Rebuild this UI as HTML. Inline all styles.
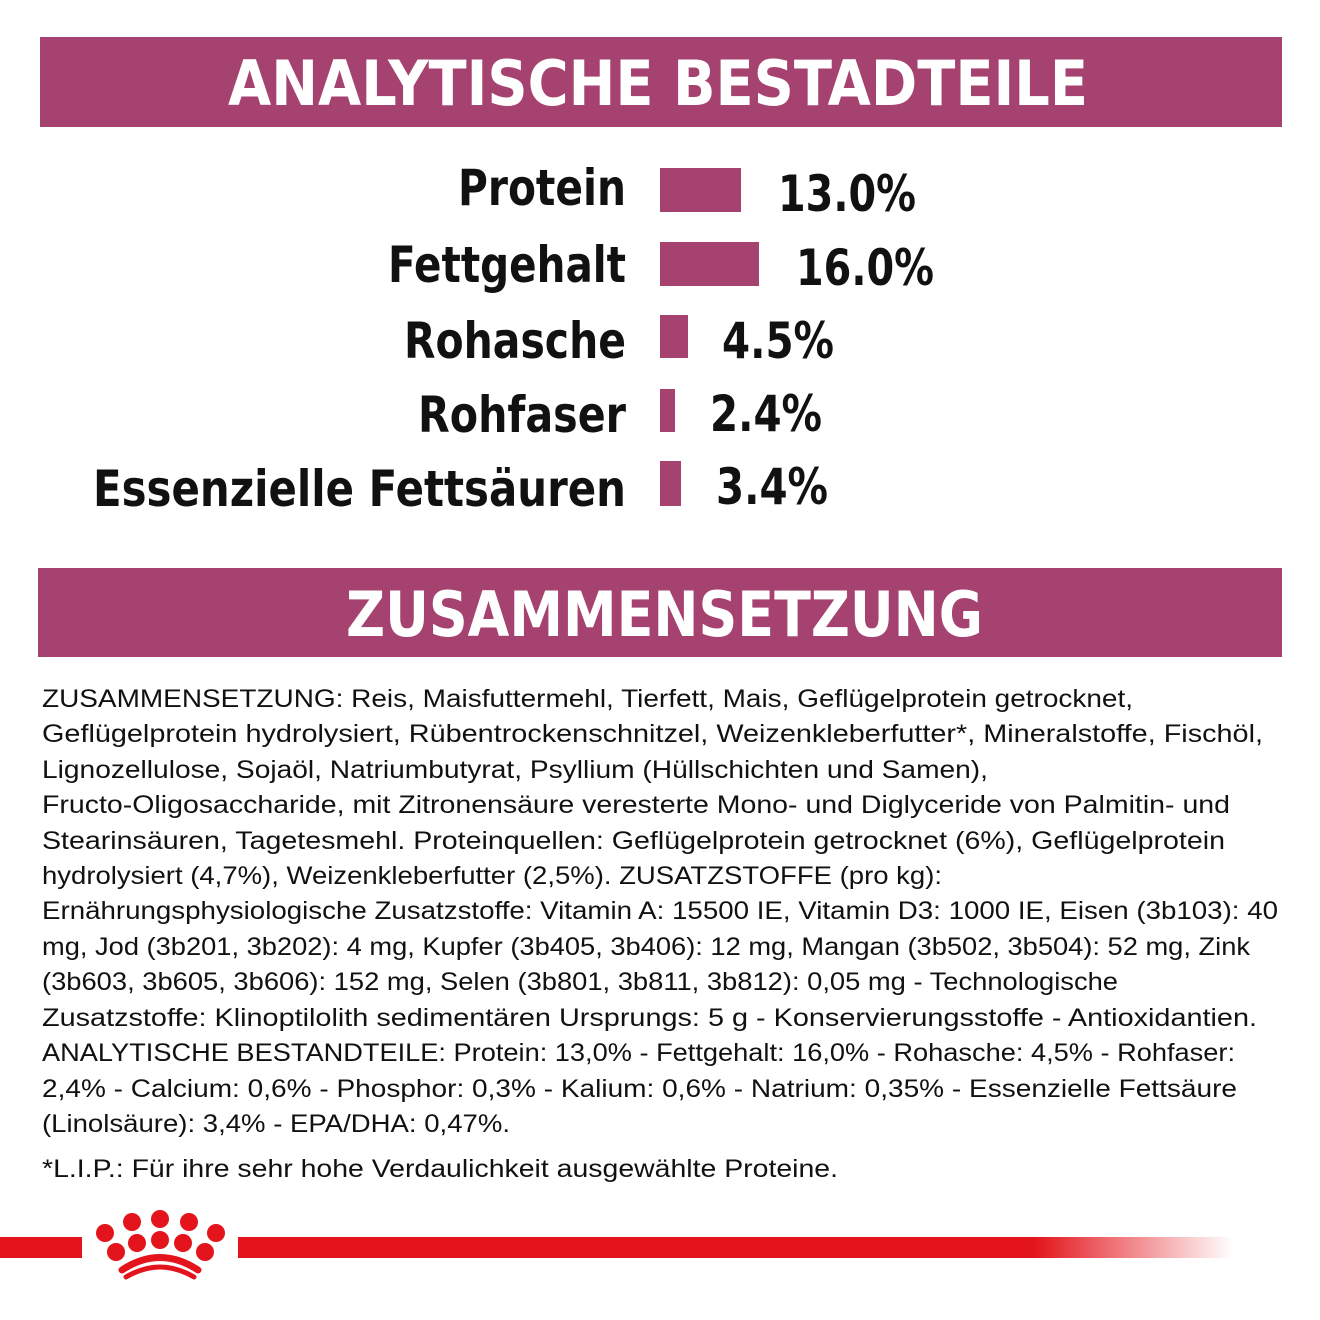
<!DOCTYPE html>
<html><head><meta charset="utf-8"><style>
html,body{margin:0;padding:0;background:#fff;}
svg{display:block;}
.t{font-family:"Liberation Sans","DejaVu Sans",sans-serif;font-size:25px;fill:#111;}
.b{font-family:"DejaVu Sans","Liberation Sans",sans-serif;font-weight:bold;fill:#111;}
.h{font-family:"DejaVu Sans","Liberation Sans",sans-serif;font-weight:bold;fill:#fff;font-size:62px;}
</style></head><body>
<svg width="1320" height="1320" viewBox="0 0 1320 1320" xmlns="http://www.w3.org/2000/svg">
<defs><linearGradient id="g" x1="0" x2="1"><stop offset="0.8" stop-color="#e3141b"/><stop offset="1" stop-color="#e3141b" stop-opacity="0"/></linearGradient></defs>
<rect x="40" y="37" width="1242" height="90" fill="#a6426f"/>
<text class="h" x="228" y="105" textLength="860" lengthAdjust="spacingAndGlyphs">ANALYTISCHE BESTADTEILE</text>
<g font-size="50">
<text class="b" x="458" y="205" textLength="168" lengthAdjust="spacingAndGlyphs">Protein</text>
<text class="b" x="388" y="282" textLength="238" lengthAdjust="spacingAndGlyphs">Fettgehalt</text>
<text class="b" x="404" y="358" textLength="222" lengthAdjust="spacingAndGlyphs">Rohasche</text>
<text class="b" x="418" y="432" textLength="208" lengthAdjust="spacingAndGlyphs">Rohfaser</text>
<text class="b" x="93" y="506" textLength="533" lengthAdjust="spacingAndGlyphs">Essenzielle Fettsäuren</text>
<text class="b" x="778" y="211" textLength="138" lengthAdjust="spacingAndGlyphs">13.0%</text>
<text class="b" x="796" y="285" textLength="138" lengthAdjust="spacingAndGlyphs">16.0%</text>
<text class="b" x="722" y="358" textLength="112" lengthAdjust="spacingAndGlyphs">4.5%</text>
<text class="b" x="710" y="431" textLength="112" lengthAdjust="spacingAndGlyphs">2.4%</text>
<text class="b" x="716" y="504" textLength="112" lengthAdjust="spacingAndGlyphs">3.4%</text>
</g>
<g fill="#a6426f">
<rect x="660" y="168" width="81" height="44"/>
<rect x="660" y="242" width="99" height="44"/>
<rect x="660" y="315" width="28" height="43"/>
<rect x="660" y="389" width="15" height="43"/>
<rect x="660" y="461" width="21" height="45"/>
</g>
<rect x="38" y="568" width="1244" height="89" fill="#a6426f"/>
<text class="h" x="346" y="636" textLength="637" lengthAdjust="spacingAndGlyphs">ZUSAMMENSETZUNG</text>
<g class="t">
<text class="t" x="42" y="707" textLength="1091" lengthAdjust="spacingAndGlyphs">ZUSAMMENSETZUNG: Reis, Maisfuttermehl, Tierfett, Mais, Geflügelprotein getrocknet,</text>
<text class="t" x="42" y="742" textLength="1221" lengthAdjust="spacingAndGlyphs">Geflügelprotein hydrolysiert, Rübentrockenschnitzel, Weizenkleberfutter*, Mineralstoffe, Fischöl,</text>
<text class="t" x="42" y="778" textLength="946" lengthAdjust="spacingAndGlyphs">Lignozellulose, Sojaöl, Natriumbutyrat, Psyllium (Hüllschichten und Samen),</text>
<text class="t" x="42" y="813" textLength="1188" lengthAdjust="spacingAndGlyphs">Fructo-Oligosaccharide, mit Zitronensäure veresterte Mono- und Diglyceride von Palmitin- und</text>
<text class="t" x="42" y="849" textLength="1183" lengthAdjust="spacingAndGlyphs">Stearinsäuren, Tagetesmehl. Proteinquellen: Geflügelprotein getrocknet (6%), Geflügelprotein</text>
<text class="t" x="42" y="884" textLength="900" lengthAdjust="spacingAndGlyphs">hydrolysiert (4,7%), Weizenkleberfutter (2,5%). ZUSATZSTOFFE (pro kg):</text>
<text class="t" x="42" y="919" textLength="1236" lengthAdjust="spacingAndGlyphs">Ernährungsphysiologische Zusatzstoffe: Vitamin A: 15500 IE, Vitamin D3: 1000 IE, Eisen (3b103): 40</text>
<text class="t" x="42" y="955" textLength="1208" lengthAdjust="spacingAndGlyphs">mg, Jod (3b201, 3b202): 4 mg, Kupfer (3b405, 3b406): 12 mg, Mangan (3b502, 3b504): 52 mg, Zink</text>
<text class="t" x="42" y="990" textLength="1076" lengthAdjust="spacingAndGlyphs">(3b603, 3b605, 3b606): 152 mg, Selen (3b801, 3b811, 3b812): 0,05 mg - Technologische</text>
<text class="t" x="42" y="1026" textLength="1215" lengthAdjust="spacingAndGlyphs">Zusatzstoffe: Klinoptilolith sedimentären Ursprungs: 5 g - Konservierungsstoffe - Antioxidantien.</text>
<text class="t" x="42" y="1061" textLength="1193" lengthAdjust="spacingAndGlyphs">ANALYTISCHE BESTANDTEILE: Protein: 13,0% - Fettgehalt: 16,0% - Rohasche: 4,5% - Rohfaser:</text>
<text class="t" x="42" y="1097" textLength="1195" lengthAdjust="spacingAndGlyphs">2,4% - Calcium: 0,6% - Phosphor: 0,3% - Kalium: 0,6% - Natrium: 0,35% - Essenzielle Fettsäure</text>
<text class="t" x="42" y="1132" textLength="468" lengthAdjust="spacingAndGlyphs">(Linolsäure): 3,4% - EPA/DHA: 0,47%.</text>
<text class="t" x="42" y="1177" textLength="796" lengthAdjust="spacingAndGlyphs">*L.I.P.: Für ihre sehr hohe Verdaulichkeit ausgewählte Proteine.</text>
</g>
<rect x="0" y="1237" width="82" height="21" fill="#e3141b"/>
<rect x="238" y="1237" width="995" height="21" fill="url(#g)"/>
<g fill="#e3141b">
<circle cx="105" cy="1233" r="9"/><circle cx="132" cy="1222" r="9"/><circle cx="160" cy="1219" r="9"/><circle cx="189" cy="1222" r="9"/><circle cx="216" cy="1233" r="9"/>
<circle cx="116" cy="1252" r="9"/><circle cx="137" cy="1243" r="9"/><circle cx="160" cy="1240" r="9"/><circle cx="183" cy="1243" r="9"/><circle cx="205" cy="1252" r="9"/>
</g>
<path d="M122 1270 Q160 1245 198 1270" stroke="#e3141b" stroke-width="7" fill="none" stroke-linecap="round"/>
<path d="M126 1277 Q160 1257 194 1277" stroke="#e3141b" stroke-width="5" fill="none" stroke-linecap="round"/>
</svg>
</body></html>
